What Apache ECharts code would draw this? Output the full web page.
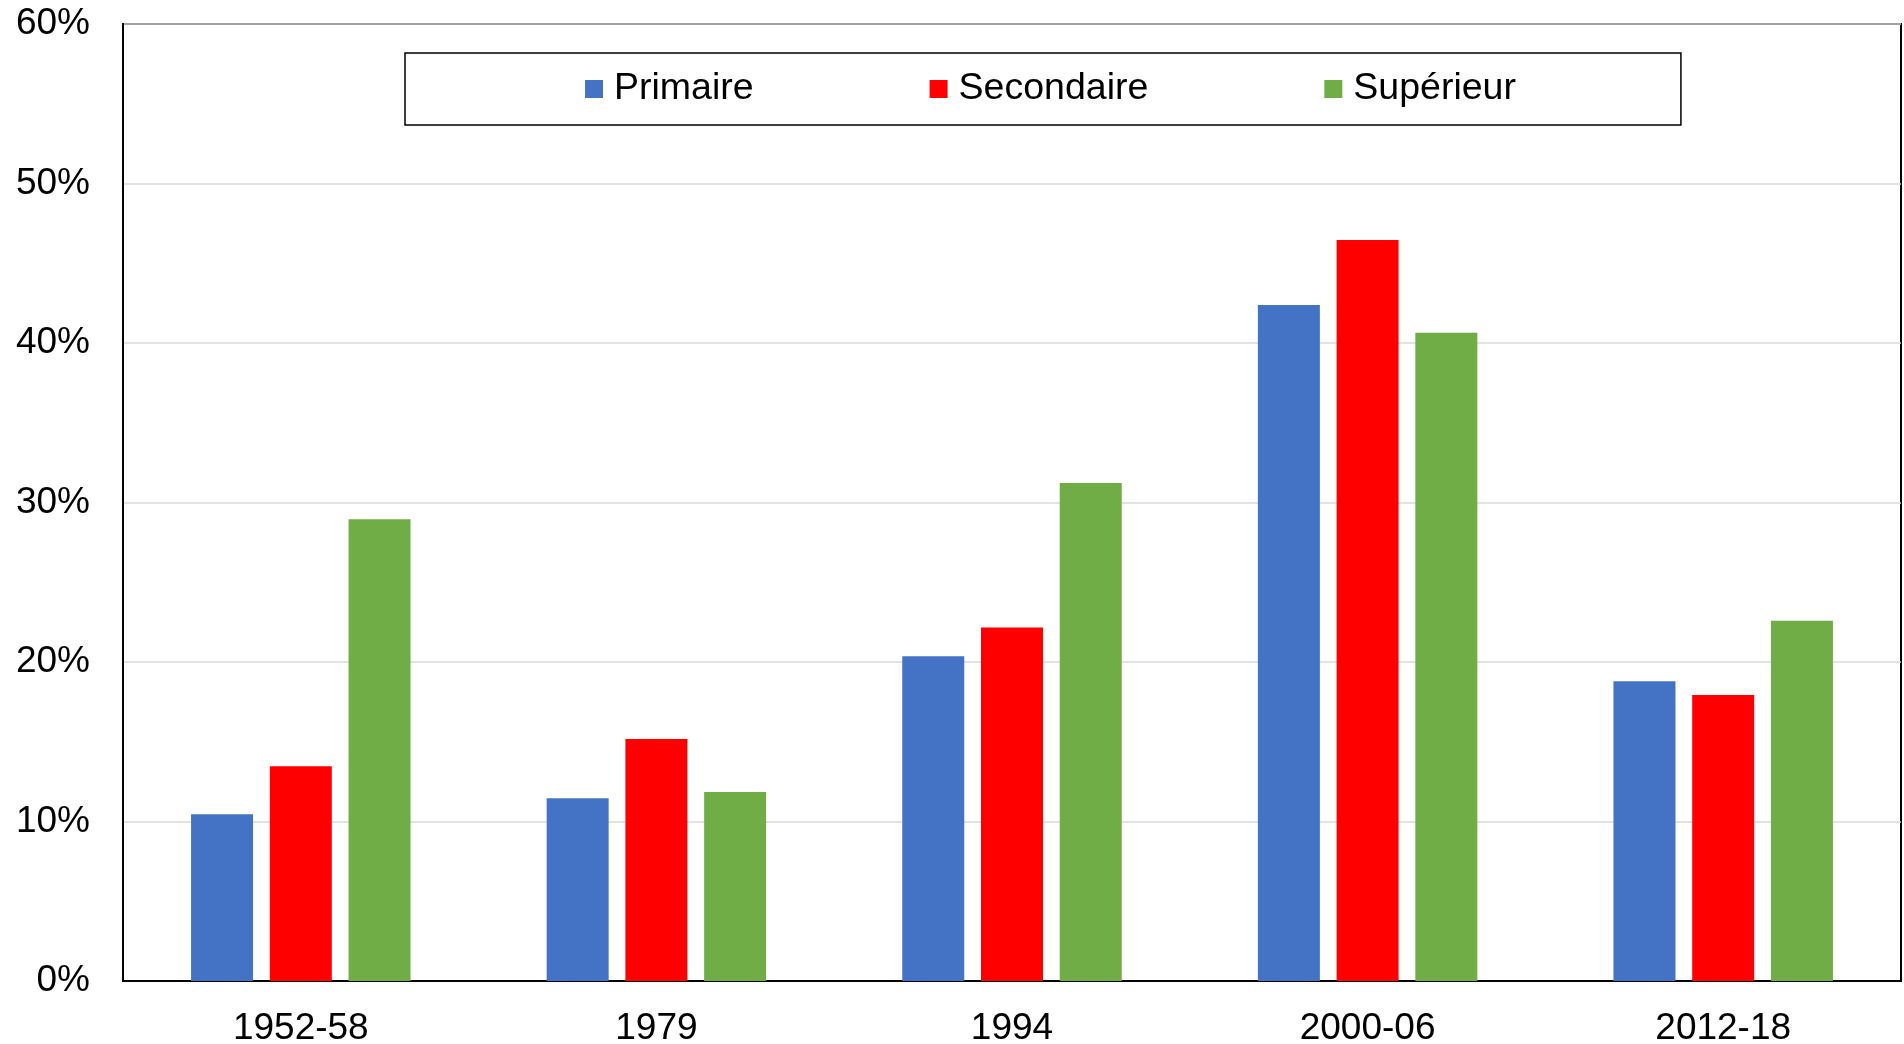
<!DOCTYPE html>
<html>
<head>
<meta charset="utf-8">
<script src="https://cdn.jsdelivr.net/npm/echarts@6/dist/echarts.min.js"></script>
<style>
  html, body { margin: 0; padding: 0; background: #fff; }
  #chart { width: 1904px; height: 1044px; }
</style>
</head>
<body>
<div id="chart"></div>
<script>
const categories = ['1952-58', '1979', '1994', '2000-06', '2012-18'];
const seriesNames = ['Primaire', 'Secondaire', 'Supérieur'];
const primaire = [10.45, 11.45, 20.36, 42.38, 18.79];
const secondaire = [13.46, 15.17, 22.17, 46.46, 17.93];
const superieur = [28.95, 11.85, 31.22, 40.65, 22.59];
const yTicks = { min: 0, max: 60, interval: 10 };
const colors = ['#4472C4', '#FF0000', '#70AD47'];

const FONT = '"Liberation Sans", Arial, sans-serif';
const chart = echarts.init(document.getElementById('chart'), null, { renderer: 'canvas' });
const values = [primaire, secondaire, superieur];

chart.setOption({
  animation: false,
  backgroundColor: '#fff',
  grid: {
    left: 123, right: 3, top: 24, bottom: 63,
    containLabel: false,
    outerBoundsMode: 'none',
    show: true, borderColor: '#000', borderWidth: 2, backgroundColor: 'transparent'
  },
  legend: {
    data: seriesNames,
    left: 405, top: 53,
    orient: 'horizontal',
    icon: 'rect',
    itemWidth: 18, itemHeight: 18,
    itemGap: 176,
    padding: [17, 165, 17, 180],
    borderColor: '#000', borderWidth: 1.5,
    textStyle: { fontSize: 37.5, color: '#000', fontFamily: FONT, padding: [0, 0, 0, 6] }
  },
  xAxis: {
    type: 'category',
    data: categories,
    axisLine: { show: true, lineStyle: { color: '#000', width: 2 } },
    axisTick: { show: false },
    axisLabel: { fontSize: 37, color: '#000', fontFamily: FONT, margin: 29 },
    splitLine: { show: false }
  },
  yAxis: {
    type: 'value',
    min: yTicks.min, max: yTicks.max, interval: yTicks.interval,
    axisLine: { show: true, lineStyle: { color: '#000', width: 2 } },
    axisTick: { show: false },
    axisLabel: { fontSize: 37, color: '#000', fontFamily: FONT, margin: 33, formatter: '{value}%' },
    splitLine: { show: true, lineStyle: { color: '#D9D9D9', width: 1.5 } }
  },
  series: seriesNames.map((name, i) => ({
    name: name,
    type: 'bar',
    data: values[i],
    barWidth: 62,
    barGap: '27%',
    itemStyle: { color: colors[i] }
  }))
});
</script>
</body>
</html>
